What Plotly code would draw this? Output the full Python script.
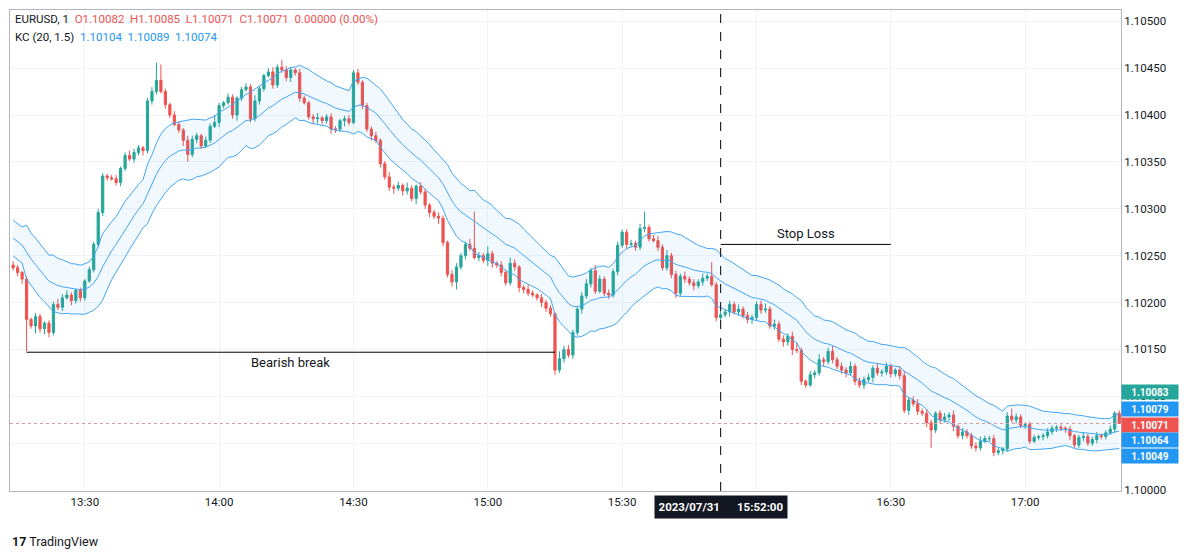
import plotly.graph_objects as go
import pandas as pd
import numpy as np

# 1-minute EURUSD closes, in 0.00001 above 1.10000
closes = [
    237, 232, 225, 182, 175, 185, 172, 178, 168, 198, 195, 205, 208, 202, 213, 205, 223, 235, 262, 296,
    335, 333, 332, 328, 343, 357, 353, 360, 365, 362, 415, 425, 437, 425, 411, 400, 390, 384, 373, 358,
    374, 378, 367, 373, 388, 392, 410, 413, 419, 400, 418, 427, 430, 396, 415, 428, 442, 446, 432, 451,
    448, 440, 448, 445, 418, 413, 398, 396, 397, 394, 398, 385, 385, 394, 396, 392, 445, 435, 410, 385,
    378, 373, 348, 334, 323, 322, 325, 319, 322, 311, 324, 318, 304, 296, 292, 290, 264, 230, 222, 238,
    250, 262, 258, 248, 250, 245, 252, 242, 240, 232, 221, 242, 238, 216, 214, 210, 208, 205, 200, 194,
    188, 128, 140, 150, 144, 168, 193, 207, 220, 234, 212, 225, 210, 208, 233, 261, 275, 262, 263, 259,
    279, 280, 268, 266, 259, 237, 250, 230, 210, 228, 225, 221, 218, 222, 226, 228, 219, 184, 187, 190,
    198, 190, 193, 186, 182, 184, 198, 192, 193, 175, 177, 161, 158, 164, 150, 149, 116, 112, 123, 125,
    139, 137, 148, 139, 132, 128, 125, 132, 116, 112, 118, 120, 130, 125, 126, 132, 124, 128, 122, 85,
    96, 92, 84, 82, 72, 64, 82, 75, 78, 80, 68, 58, 62, 58, 47, 45, 52, 55, 55, 40,
    42, 44, 79, 75, 78, 69, 70, 52, 56, 57, 58, 62, 66, 67, 66, 65, 58, 48, 56, 57,
    50, 54, 58, 57, 61, 65, 82, 71,
]
first_open = 240
wick_up = [
    4, 3, 2, 3, 2, 4, 3, 2, 3, 3, 6, 4, 5, 3, 2, 3, 2, 3, 3, 4,
    3, 2, 3, 4, 2, 3, 5, 4, 3, 2, 3, 5, 19, 17, 3, 2, 4, 3, 2, 5,
    4, 3, 2, 4, 3, 8, 3, 2, 4, 3, 2, 3, 4, 3, 6, 3, 2, 4, 5, 3,
    8, 4, 3, 2, 4, 3, 2, 3, 5, 2, 3, 4, 3, 2, 3, 4, 3, 4, 2, 3,
    3, 4, 2, 3, 5, 3, 4, 2, 6, 3, 2, 4, 3, 2, 3, 4, 3, 2, 5, 4,
    3, 3, 6, 39, 4, 3, 8, 3, 2, 4, 3, 6, 4, 2, 3, 5, 3, 2, 4, 3,
    3, 2, 8, 4, 5, 3, 3, 4, 5, 3, 6, 4, 3, 4, 3, 4, 3, 3, 4, 3,
    5, 17, 3, 4, 5, 3, 6, 3, 4, 3, 5, 3, 4, 3, 5, 3, 15, 3, 4, 3,
    4, 3, 5, 3, 4, 3, 3, 4, 6, 3, 5, 3, 4, 3, 5, 7, 3, 2, 4, 3,
    6, 3, 4, 6, 3, 4, 3, 5, 3, 4, 3, 4, 3, 5, 3, 4, 3, 2, 4, 5,
    3, 4, 5, 3, 4, 3, 2, 3, 4, 3, 5, 2, 4, 3, 3, 4, 5, 3, 3, 4,
    3, 2, 4, 8, 4, 3, 2, 3, 3, 2, 3, 4, 3, 2, 3, 2, 3, 2, 3, 4,
    3, 3, 4, 2, 3, 4, 2, 3,
]
wick_dn = [
    3, 4, 5, 34, 3, 8, 4, 6, 5, 3, 3, 4, 2, 5, 3, 4, 3, 2, 3, 3,
    4, 3, 2, 3, 4, 3, 2, 4, 3, 5, 3, 4, 3, 2, 4, 3, 2, 3, 6, 8,
    3, 4, 3, 2, 3, 2, 5, 3, 2, 4, 6, 3, 2, 4, 3, 4, 3, 2, 4, 3,
    3, 4, 5, 3, 4, 2, 3, 6, 5, 4, 3, 5, 4, 3, 6, 3, 2, 3, 4, 3,
    5, 3, 4, 3, 4, 6, 3, 5, 4, 3, 6, 3, 4, 5, 3, 6, 4, 3, 5, 8,
    3, 4, 3, 2, 4, 3, 6, 5, 3, 4, 3, 3, 4, 5, 4, 3, 2, 3, 5, 4,
    3, 5, 3, 4, 3, 4, 3, 5, 3, 4, 3, 2, 3, 4, 3, 4, 3, 5, 3, 4,
    3, 4, 3, 2, 4, 3, 3, 4, 5, 3, 4, 3, 5, 3, 4, 3, 2, 4, 3, 3,
    5, 3, 4, 3, 4, 5, 3, 4, 3, 3, 4, 3, 5, 4, 6, 3, 4, 3, 2, 4,
    3, 5, 3, 4, 3, 4, 5, 3, 4, 3, 4, 3, 5, 3, 4, 3, 4, 3, 4, 3,
    5, 3, 4, 3, 5, 19, 3, 4, 3, 4, 5, 3, 4, 3, 3, 4, 3, 2, 3, 4,
    3, 4, 3, 3, 4, 3, 4, 3, 2, 3, 4, 3, 3, 4, 3, 4, 5, 3, 3, 4,
    3, 3, 4, 3, 3, 2, 4, 0,
]
# channel state carried in from the bars before the window
kc_seed_mid = 1.10272
kc_seed_range = 0.00013
tick_times = ["13:30", "14:00", "14:30", "15:00", "15:30", "16:00", "16:30", "17:00"]
tick_labels = ["13:30", "14:00", "14:30", "15:00", "15:30", "", "16:30", "17:00"]
tag_texts = ["1.10083", "1.10079", "1.10071", "1.10064", "1.10049"]
tag_colors = ["#26a69a", "#2196f3", "#ef5350", "#2196f3", "#2196f3"]
bearish_level = 1.10147
stop_level = 1.10262
last_close = 1.10071

base = 1.10000
pip = 0.00001
c = np.array(closes)
o = np.concatenate([[first_open], c[:-1]])
h = np.maximum(o, c) + np.array(wick_up)
l = np.minimum(o, c) - np.array(wick_dn)
df = pd.DataFrame({"open": base + o * pip, "high": base + h * pip,
                   "low": base + l * pip, "close": base + c * pip})
df["time"] = pd.date_range("2023-07-31 13:14", periods=len(df), freq="min")

# Keltner channel (20, 1.5), true range
prev_c = df["close"].shift(1).fillna(df["open"])
tr = pd.concat([df["high"] - df["low"], (df["high"] - prev_c).abs(),
                (df["low"] - prev_c).abs()], axis=1).max(axis=1)
alpha = 2 / 21
ma, rng = [], []
m, r = kc_seed_mid, kc_seed_range
for cl, t in zip(df["close"], tr):
    m = m + alpha * (cl - m)
    r = r + alpha * (t - r)
    ma.append(m)
    rng.append(r)
ma = np.array(ma)
rng = np.array(rng)
upper = ma + 1.5 * rng
lower = ma - 1.5 * rng

fig = go.Figure()
band = "#42a5f5"
fig.add_trace(go.Scatter(x=df["time"], y=upper, mode="lines", line=dict(color=band, width=1),
                         hoverinfo="skip"))
fig.add_trace(go.Scatter(x=df["time"], y=lower, mode="lines", line=dict(color=band, width=1),
                         fill="tonexty", fillcolor="rgba(33,150,243,0.06)", hoverinfo="skip"))
fig.add_trace(go.Scatter(x=df["time"], y=ma, mode="lines", line=dict(color=band, width=1),
                         hoverinfo="skip"))
fig.add_trace(go.Candlestick(
    x=df["time"], open=df["open"], high=df["high"], low=df["low"], close=df["close"],
    increasing=dict(line=dict(color="#26a69a", width=1), fillcolor="#26a69a"),
    decreasing=dict(line=dict(color="#ef5350", width=1), fillcolor="#ef5350"),
    whiskerwidth=0))

day = "2023-07-31 "
t0 = pd.Timestamp(day + "13:13.3")
t1 = pd.Timestamp(day + "17:21.4")
cross = pd.Timestamp(day + "15:52")

shapes = [
    dict(type="line", xref="x", yref="y", x0=df["time"][3], x1=df["time"][121],
         y0=bearish_level, y1=bearish_level, line=dict(color="black", width=1)),
    dict(type="line", xref="x", yref="y", x0=cross, x1=pd.Timestamp(day + "16:30"),
         y0=stop_level, y1=stop_level, line=dict(color="black", width=1)),
    dict(type="line", xref="x", yref="paper", x0=cross, x1=cross, y0=0, y1=1,
         line=dict(color="black", width=1, dash="dash")),
    dict(type="line", xref="paper", yref="y", x0=0, x1=1, y0=last_close, y1=last_close,
         line=dict(color="#d99a9a", width=1, dash="dot")),
]

ann = [
    dict(x=pd.Timestamp(day + "14:16"), y=bearish_level, text="Bearish break", showarrow=False,
         yanchor="top", yshift=-1, font=dict(size=13, color="#131722")),
    dict(x=pd.Timestamp(day + "16:11"), y=stop_level, text="Stop Loss", showarrow=False,
         yanchor="bottom", yshift=1, font=dict(size=13, color="#131722")),
    dict(xref="paper", yref="paper", x=0.003, y=1.0, xanchor="left", yanchor="top", showarrow=False,
         align="left", font=dict(size=11.5, color="#131722"),
         text="EURUSD, 1  <span style='color:#ef5350'>O1.10082  H1.10085  L1.10071  C1.10071  0.00000 (0.00%)</span>"),
    dict(xref="paper", yref="paper", x=0.003, y=0.963, xanchor="left", yanchor="top", showarrow=False,
         align="left", font=dict(size=11.5, color="#131722"),
         text="KC (20, 1.5)  <span style='color:#2196f3'>1.10104  1.10089  1.10074</span>"),
    dict(x=cross, yref="paper", y=-0.008, text="<b>2023/07/31      15:52:00</b>", showarrow=False,
         yanchor="top", bgcolor="#131722", font=dict(size=11.5, color="white"),
         borderpad=4, width=124),
    dict(xref="paper", yref="paper", x=0.0, y=-0.085, xanchor="left", yanchor="top",
         showarrow=False, text="<b>17</b> TradingView", font=dict(size=12.5, color="#131722")),
]
tag_pos = [1.101047, 1.100865, 1.100694, 1.100534, 1.100363]
for txt, col, yp in zip(tag_texts, tag_colors, tag_pos):
    ann.append(dict(xref="paper", yref="y", x=1.0, y=yp, xanchor="left", showarrow=False,
                    text=f"<b>{txt}</b>", bgcolor=col, font=dict(size=10, color="white"),
                    borderpad=1, width=54, height=12))

fig.update_layout(
    width=1189, height=555, margin=dict(l=10, r=68, t=10, b=64, autoexpand=False),
    paper_bgcolor="white", plot_bgcolor="white", showlegend=False,
    font=dict(family="Roboto, Arial, sans-serif", color="#131722"),
    shapes=shapes, annotations=ann,
    xaxis=dict(range=[t0, t1], rangeslider=dict(visible=False), showgrid=True,
               gridcolor="#f0f3fa", tickvals=[pd.Timestamp(day + t) for t in tick_times],
               ticktext=tick_labels, tickfont=dict(size=11.5), showline=True,
               linecolor="#b2b5be", mirror=True, ticks="", automargin=False),
    yaxis=dict(range=[1.09999, 1.10512], side="right", showgrid=True, gridcolor="#f0f3fa",
               dtick=0.0005, tick0=1.1, tickformat=".5f", tickfont=dict(size=11.5),
               showline=True, linecolor="#b2b5be", mirror=True, ticks="", zeroline=False,
               automargin=False),
)
fig.write_html("out.html", config={"displayModeBar": False},
               post_script="document.body.style.margin='0';")
